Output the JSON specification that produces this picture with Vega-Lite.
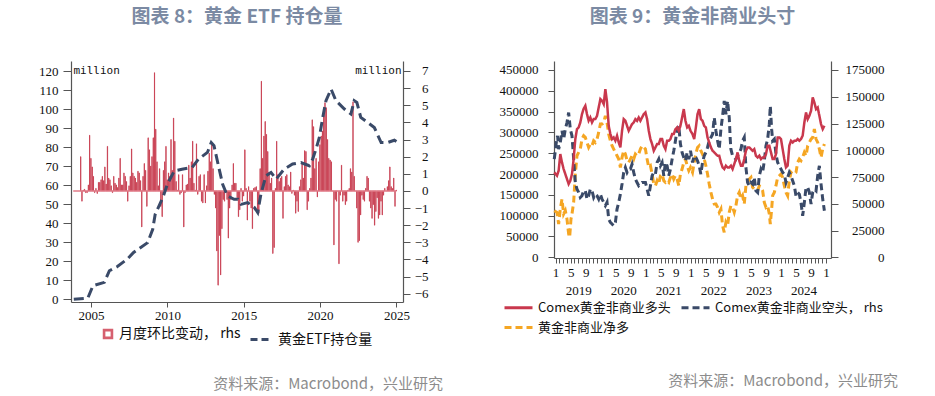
{
"$schema": "https://vega.github.io/schema/vega-lite/v6.json",
"background": "white",
"padding": {"left": 38, "top": 8, "right": 0, "bottom": 0},
"spacing": 56,
"resolve": {"scale": {"color": "independent", "fill": "independent", "stroke": "independent", "strokeDash": "independent"}, "legend": {"color": "independent", "fill": "independent", "stroke": "independent", "strokeDash": "independent"}},
"config": {
  "view": {"stroke": null},
  "axis": {"labelFont": "Liberation Serif", "labelFontSize": 13, "labelColor": "#111111", "domainColor": "#555555", "tickColor": "#555555", "domainWidth": 1.2, "grid": false, "titleFont": "DejaVu Sans Mono", "titleFontSize": 11, "titleFontWeight": "normal", "titleColor": "#111111"},
  "legend": {"labelFont": "Noto Sans CJK SC", "labelFontSize": 13, "labelColor": "#111111", "labelLimit": 0, "orient": "bottom", "layout": {"bottom": {"anchor": "middle"}}},
  "title": {"font": "Noto Sans CJK SC", "fontSize": 19, "fontWeight": "bold", "color": "#7b8aa3"}
},
"datasets": {
  "chg": [
    {"m":"2004-04","v":2.0},{"m":"2004-05","v":-0.6},{"m":"2004-06","v":0.05},{"m":"2004-07","v":0.1},{"m":"2004-08","v":-0.1},{"m":"2004-09","v":-0.1},{"m":"2004-10","v":0.35},{"m":"2004-11","v":3.25},{"m":"2004-12","v":1.9},
    {"m":"2005-01","v":1.4},{"m":"2005-02","v":0.85},{"m":"2005-03","v":-0.1},{"m":"2005-04","v":0.15},{"m":"2005-05","v":-0.15},{"m":"2005-06","v":0.5},{"m":"2005-07","v":0.5},{"m":"2005-08","v":0.65},{"m":"2005-09","v":0.85},{"m":"2005-10","v":0.6},{"m":"2005-11","v":1.4},{"m":"2005-12","v":0.4},
    {"m":"2006-01","v":2.6},{"m":"2006-02","v":0.75},{"m":"2006-03","v":0.65},{"m":"2006-04","v":0.3},{"m":"2006-05","v":-0.1},{"m":"2006-06","v":0.85},{"m":"2006-07","v":0.45},{"m":"2006-08","v":0.35},{"m":"2006-09","v":0.2},{"m":"2006-10","v":0.75},{"m":"2006-11","v":1.9},{"m":"2006-12","v":0.35},
    {"m":"2007-01","v":0.35},{"m":"2007-02","v":1.05},{"m":"2007-03","v":0.85},{"m":"2007-04","v":0.55},{"m":"2007-05","v":-0.6},{"m":"2007-06","v":0.3},{"m":"2007-07","v":0.85},{"m":"2007-08","v":2.45},{"m":"2007-09","v":1.05},{"m":"2007-10","v":0.85},{"m":"2007-11","v":0.75},{"m":"2007-12","v":0.5},
    {"m":"2008-01","v":1.15},{"m":"2008-02","v":1.05},{"m":"2008-03","v":0.6},{"m":"2008-04","v":-2.1},{"m":"2008-05","v":0.85},{"m":"2008-06","v":1.6},{"m":"2008-07","v":1.2},{"m":"2008-08","v":-0.9},{"m":"2008-09","v":3.1},{"m":"2008-10","v":2.4},{"m":"2008-11","v":1.45},{"m":"2008-12","v":2.0},
    {"m":"2009-01","v":3.1},{"m":"2009-02","v":6.9},{"m":"2009-03","v":3.6},{"m":"2009-04","v":1.7},{"m":"2009-05","v":0.3},{"m":"2009-06","v":1.3},{"m":"2009-07","v":-0.9},{"m":"2009-08","v":-1.5},{"m":"2009-09","v":1.2},{"m":"2009-10","v":1.7},{"m":"2009-11","v":2.6},{"m":"2009-12","v":0.65},
    {"m":"2010-01","v":1.05},{"m":"2010-02","v":0.85},{"m":"2010-03","v":3.0},{"m":"2010-04","v":1.2},{"m":"2010-05","v":4.25},{"m":"2010-06","v":2.9},{"m":"2010-07","v":0.55},{"m":"2010-08","v":0.05},{"m":"2010-09","v":0.95},{"m":"2010-10","v":-0.2},{"m":"2010-11","v":-0.1},{"m":"2010-12","v":0.95},
    {"m":"2011-01","v":-2.1},{"m":"2011-02","v":-0.1},{"m":"2011-03","v":0.35},{"m":"2011-04","v":0.4},{"m":"2011-05","v":1.5},{"m":"2011-06","v":0.75},{"m":"2011-07","v":1.7},{"m":"2011-08","v":2.9},{"m":"2011-09","v":0.45},{"m":"2011-10","v":0.05},{"m":"2011-11","v":2.75},{"m":"2011-12","v":-0.2},
    {"m":"2012-01","v":0.85},{"m":"2012-02","v":0.95},{"m":"2012-03","v":-0.6},{"m":"2012-04","v":-0.7},{"m":"2012-05","v":0.95},{"m":"2012-06","v":-0.7},{"m":"2012-07","v":0.3},{"m":"2012-08","v":1.15},{"m":"2012-09","v":2.2},{"m":"2012-10","v":1.7},{"m":"2012-11","v":2.8},{"m":"2012-12","v":1.3},
    {"m":"2013-01","v":-0.2},{"m":"2013-02","v":-1.0},{"m":"2013-03","v":-3.5},{"m":"2013-04","v":-5.5},{"m":"2013-05","v":-2.6},{"m":"2013-06","v":-4.9},{"m":"2013-07","v":-2.2},{"m":"2013-08","v":-0.5},{"m":"2013-09","v":-0.6},{"m":"2013-10","v":-0.1},{"m":"2013-11","v":-0.5},{"m":"2013-12","v":-2.75},
    {"m":"2014-01","v":-1.0},{"m":"2014-02","v":-0.5},{"m":"2014-03","v":0.35},{"m":"2014-04","v":1.6},{"m":"2014-05","v":0.45},{"m":"2014-06","v":0.45},{"m":"2014-07","v":-0.4},{"m":"2014-08","v":-1.5},{"m":"2014-09","v":-1.1},{"m":"2014-10","v":0.15},{"m":"2014-11","v":-0.6},{"m":"2014-12","v":-0.3},
    {"m":"2015-01","v":2.4},{"m":"2015-02","v":0.15},{"m":"2015-03","v":-1.7},{"m":"2015-04","v":0.25},{"m":"2015-05","v":-0.6},{"m":"2015-06","v":-1.0},{"m":"2015-07","v":-2.2},{"m":"2015-08","v":0.15},{"m":"2015-09","v":0.2},{"m":"2015-10","v":0.25},{"m":"2015-11","v":-1.3},{"m":"2015-12","v":-1.3},
    {"m":"2016-01","v":1.3},{"m":"2016-02","v":6.4},{"m":"2016-03","v":1.9},{"m":"2016-04","v":3.2},{"m":"2016-05","v":4.05},{"m":"2016-06","v":3.3},{"m":"2016-07","v":2.3},{"m":"2016-08","v":1.1},{"m":"2016-09","v":0.45},{"m":"2016-10","v":0.75},{"m":"2016-11","v":-3.65},{"m":"2016-12","v":-3.3},
    {"m":"2017-01","v":0.15},{"m":"2017-02","v":2.9},{"m":"2017-03","v":0.95},{"m":"2017-04","v":0.55},{"m":"2017-05","v":0.75},{"m":"2017-06","v":0.85},{"m":"2017-07","v":-1.6},{"m":"2017-08","v":0.25},{"m":"2017-09","v":0.85},{"m":"2017-10","v":0.95},{"m":"2017-11","v":0.35},{"m":"2017-12","v":0.25},
    {"m":"2018-01","v":1.1},{"m":"2018-02","v":-0.15},{"m":"2018-03","v":0.05},{"m":"2018-04","v":-0.25},{"m":"2018-05","v":-1.3},{"m":"2018-06","v":-0.6},{"m":"2018-07","v":-1.2},{"m":"2018-08","v":0.25},{"m":"2018-09","v":0.65},{"m":"2018-10","v":1.6},{"m":"2018-11","v":0.75},{"m":"2018-12","v":2.35},
    {"m":"2019-01","v":2.3},{"m":"2019-02","v":-1.1},{"m":"2019-03","v":-0.6},{"m":"2019-04","v":0.15},{"m":"2019-05","v":0.75},{"m":"2019-06","v":4.15},{"m":"2019-07","v":3.75},{"m":"2019-08","v":1.3},{"m":"2019-09","v":1.9},{"m":"2019-10","v":-0.35},{"m":"2019-11","v":1.7},{"m":"2019-12","v":2.7},
    {"m":"2020-01","v":3.2},{"m":"2020-02","v":3.5},{"m":"2020-03","v":4.85},{"m":"2020-04","v":5.15},{"m":"2020-05","v":4.85},{"m":"2020-06","v":3.0},{"m":"2020-07","v":1.9},{"m":"2020-08","v":1.8},{"m":"2020-09","v":1.7},{"m":"2020-10","v":0.0},{"m":"2020-11","v":-3.15},{"m":"2020-12","v":-0.5},
    {"m":"2021-01","v":-0.6},{"m":"2021-02","v":0.0},{"m":"2021-03","v":-4.25},{"m":"2021-04","v":-0.25},{"m":"2021-05","v":1.5},{"m":"2021-06","v":-0.6},{"m":"2021-07","v":-0.25},{"m":"2021-08","v":-0.8},{"m":"2021-09","v":-0.6},{"m":"2021-10","v":0.05},{"m":"2021-11","v":0.15},{"m":"2021-12","v":1.3},
    {"m":"2022-01","v":1.1},{"m":"2022-02","v":5.2},{"m":"2022-03","v":0.85},{"m":"2022-04","v":0.0},{"m":"2022-05","v":-1.0},{"m":"2022-06","v":-3.0},{"m":"2022-07","v":-2.9},{"m":"2022-08","v":-1.4},{"m":"2022-09","v":-0.25},{"m":"2022-10","v":-0.5},{"m":"2022-11","v":-0.6},{"m":"2022-12","v":0.15},
    {"m":"2023-01","v":0.85},{"m":"2023-02","v":0.75},{"m":"2023-03","v":-0.6},{"m":"2023-04","v":-1.0},{"m":"2023-05","v":-1.6},{"m":"2023-06","v":-0.8},{"m":"2023-07","v":-2.0},{"m":"2023-08","v":-1.2},{"m":"2023-09","v":-0.4},{"m":"2023-10","v":-1.6},{"m":"2023-11","v":-1.4},{"m":"2023-12","v":-0.6},
    {"m":"2024-01","v":-1.4},{"m":"2024-02","v":-0.25},{"m":"2024-03","v":0.15},{"m":"2024-04","v":0.0},{"m":"2024-05","v":0.25},{"m":"2024-06","v":0.6},{"m":"2024-07","v":1.4},{"m":"2024-08","v":0.25},{"m":"2024-09","v":0.15},{"m":"2024-10","v":0.75},{"m":"2024-11","v":-0.9},{"m":"2024-12","v":0.05}
  ],
  "etf": [
    {"d":"2003-11-15","v":0},{"d":"2004-10-15","v":0.6},{"d":"2005-02-15","v":7.1},{"d":"2005-11-15","v":8.9},{"d":"2006-03-15","v":15},{"d":"2006-09-15","v":17.1},{"d":"2007-05-15","v":21.1},{"d":"2007-10-15","v":24.6},{"d":"2008-09-15","v":29.8},{"d":"2009-01-15","v":36.8},{"d":"2009-03-15","v":44.7},{"d":"2009-09-15","v":53.5},{"d":"2010-01-01","v":60.5},{"d":"2010-06-15","v":67.5},{"d":"2010-12-15","v":68.4},{"d":"2011-08-15","v":69.3},{"d":"2012-01-15","v":73.7},{"d":"2012-08-15","v":77.2},{"d":"2012-11-15","v":82.4},{"d":"2013-01-20","v":80.7},{"d":"2013-05-15","v":69.3},{"d":"2013-08-15","v":60.5},{"d":"2013-12-05","v":54.4},{"d":"2014-05-15","v":52.6},{"d":"2014-08-15","v":52.6},{"d":"2014-10-30","v":49.9},{"d":"2015-04-05","v":50.8},{"d":"2015-09-15","v":48.2},{"d":"2015-12-01","v":45.6},{"d":"2016-02-15","v":55.2},{"d":"2016-06-15","v":64.9},{"d":"2016-10-15","v":66.7},{"d":"2017-02-15","v":63.2},{"d":"2017-08-25","v":68.4},{"d":"2018-03-15","v":71.1},{"d":"2018-10-01","v":71.9},{"d":"2019-04-20","v":70.2},{"d":"2019-07-08","v":73.7},{"d":"2019-09-27","v":79.0},{"d":"2019-12-15","v":85.1},{"d":"2020-03-05","v":95.6},{"d":"2020-05-22","v":104.4},{"d":"2020-09-20","v":110.5},{"d":"2021-01-15","v":104.4},{"d":"2021-08-05","v":100},{"d":"2022-01-08","v":97.4},{"d":"2022-03-28","v":104.4},{"d":"2022-05-30","v":103.5},{"d":"2022-09-01","v":95.6},{"d":"2023-02-15","v":92.9},{"d":"2023-07-22","v":90.3},{"d":"2024-01-01","v":82.4},{"d":"2024-06-05","v":82.4},{"d":"2024-11-12","v":83.6},{"d":"2025-01-01","v":82.9}
  ],
  "long": [
    {"t":2018.97,"v":204000},{"t":2019.03,"v":196000},{"t":2019.067,"v":208000},{"t":2019.104,"v":248000},{"t":2019.141,"v":228000},{"t":2019.178,"v":212000},{"t":2019.215,"v":200000},{"t":2019.252,"v":188000},{"t":2019.289,"v":176000},{"t":2019.326,"v":184000},{"t":2019.363,"v":200000},{"t":2019.4,"v":236000},{"t":2019.437,"v":284000},{"t":2019.474,"v":308000},{"t":2019.511,"v":312000},{"t":2019.548,"v":324000},{"t":2019.585,"v":344000},{"t":2019.622,"v":357000},{"t":2019.659,"v":364000},{"t":2019.696,"v":344000},{"t":2019.733,"v":328000},{"t":2019.77,"v":336000},{"t":2019.807,"v":324000},{"t":2019.844,"v":332000},{"t":2019.881,"v":332000},{"t":2019.919,"v":340000},{"t":2019.956,"v":360000},{"t":2019.993,"v":380000},
    {"t":2020.03,"v":376000},{"t":2020.067,"v":368000},{"t":2020.104,"v":404000},{"t":2020.141,"v":372000},{"t":2020.178,"v":316000},{"t":2020.215,"v":296000},{"t":2020.252,"v":284000},{"t":2020.289,"v":288000},{"t":2020.326,"v":280000},{"t":2020.363,"v":292000},{"t":2020.4,"v":276000},{"t":2020.437,"v":264000},{"t":2020.474,"v":304000},{"t":2020.511,"v":332000},{"t":2020.548,"v":328000},{"t":2020.585,"v":316000},{"t":2020.622,"v":304000},{"t":2020.659,"v":312000},{"t":2020.696,"v":320000},{"t":2020.733,"v":324000},{"t":2020.77,"v":332000},{"t":2020.807,"v":328000},{"t":2020.844,"v":336000},{"t":2020.881,"v":328000},{"t":2020.919,"v":336000},{"t":2020.956,"v":344000},{"t":2020.993,"v":348000},
    {"t":2021.03,"v":332000},{"t":2021.067,"v":304000},{"t":2021.104,"v":284000},{"t":2021.141,"v":272000},{"t":2021.178,"v":256000},{"t":2021.215,"v":264000},{"t":2021.252,"v":272000},{"t":2021.289,"v":272000},{"t":2021.326,"v":284000},{"t":2021.363,"v":284000},{"t":2021.4,"v":268000},{"t":2021.437,"v":260000},{"t":2021.474,"v":280000},{"t":2021.511,"v":280000},{"t":2021.548,"v":284000},{"t":2021.585,"v":296000},{"t":2021.622,"v":296000},{"t":2021.659,"v":308000},{"t":2021.696,"v":312000},{"t":2021.733,"v":304000},{"t":2021.77,"v":316000},{"t":2021.807,"v":336000},{"t":2021.844,"v":356000},{"t":2021.881,"v":328000},{"t":2021.919,"v":312000},{"t":2021.956,"v":316000},{"t":2021.993,"v":304000},
    {"t":2022.038,"v":296000},{"t":2022.075,"v":284000},{"t":2022.112,"v":312000},{"t":2022.149,"v":344000},{"t":2022.186,"v":356000},{"t":2022.223,"v":332000},{"t":2022.26,"v":328000},{"t":2022.297,"v":316000},{"t":2022.334,"v":312000},{"t":2022.371,"v":288000},{"t":2022.408,"v":276000},{"t":2022.446,"v":264000},{"t":2022.483,"v":256000},{"t":2022.52,"v":252000},{"t":2022.557,"v":248000},{"t":2022.594,"v":244000},{"t":2022.631,"v":244000},{"t":2022.668,"v":228000},{"t":2022.705,"v":216000},{"t":2022.742,"v":212000},{"t":2022.779,"v":220000},{"t":2022.816,"v":216000},{"t":2022.853,"v":216000},{"t":2022.89,"v":220000},{"t":2022.927,"v":212000},{"t":2022.964,"v":224000},
    {"t":2023.001,"v":236000},{"t":2023.038,"v":252000},{"t":2023.075,"v":232000},{"t":2023.112,"v":220000},{"t":2023.149,"v":220000},{"t":2023.186,"v":236000},{"t":2023.223,"v":256000},{"t":2023.26,"v":264000},{"t":2023.297,"v":264000},{"t":2023.334,"v":260000},{"t":2023.371,"v":256000},{"t":2023.408,"v":260000},{"t":2023.445,"v":244000},{"t":2023.483,"v":240000},{"t":2023.52,"v":244000},{"t":2023.557,"v":236000},{"t":2023.594,"v":240000},{"t":2023.631,"v":240000},{"t":2023.668,"v":248000},{"t":2023.705,"v":268000},{"t":2023.742,"v":268000},{"t":2023.779,"v":252000},{"t":2023.816,"v":236000},{"t":2023.853,"v":236000},{"t":2023.89,"v":248000},{"t":2023.927,"v":288000},{"t":2023.964,"v":288000},
    {"t":2024.001,"v":284000},{"t":2024.038,"v":260000},{"t":2024.075,"v":236000},{"t":2024.112,"v":216000},{"t":2024.149,"v":220000},{"t":2024.186,"v":268000},{"t":2024.223,"v":280000},{"t":2024.26,"v":276000},{"t":2024.297,"v":280000},{"t":2024.334,"v":280000},{"t":2024.371,"v":284000},{"t":2024.408,"v":280000},{"t":2024.445,"v":284000},{"t":2024.482,"v":292000},{"t":2024.52,"v":324000},{"t":2024.557,"v":348000},{"t":2024.594,"v":332000},{"t":2024.631,"v":340000},{"t":2024.668,"v":352000},{"t":2024.705,"v":384000},{"t":2024.742,"v":372000},{"t":2024.779,"v":356000},{"t":2024.816,"v":360000},{"t":2024.853,"v":340000},{"t":2024.89,"v":320000},{"t":2024.927,"v":308000},{"t":2024.964,"v":316000}
  ],
  "net": [
    {"t":2018.97,"v":112000},{"t":2019.03,"v":108000},{"t":2019.067,"v":80000},{"t":2019.104,"v":116000},{"t":2019.141,"v":140000},{"t":2019.178,"v":104000},{"t":2019.215,"v":112000},{"t":2019.252,"v":92000},{"t":2019.289,"v":56000},{"t":2019.311,"v":48000},{"t":2019.341,"v":92000},{"t":2019.363,"v":104000},{"t":2019.4,"v":132000},{"t":2019.437,"v":200000},{"t":2019.474,"v":244000},{"t":2019.511,"v":252000},{"t":2019.548,"v":260000},{"t":2019.585,"v":284000},{"t":2019.622,"v":292000},{"t":2019.659,"v":288000},{"t":2019.696,"v":276000},{"t":2019.733,"v":264000},{"t":2019.77,"v":272000},{"t":2019.807,"v":268000},{"t":2019.844,"v":280000},{"t":2019.881,"v":276000},{"t":2019.919,"v":284000},{"t":2019.956,"v":300000},{"t":2019.993,"v":320000},
    {"t":2020.03,"v":320000},{"t":2020.067,"v":324000},{"t":2020.104,"v":340000},{"t":2020.141,"v":324000},{"t":2020.178,"v":296000},{"t":2020.215,"v":280000},{"t":2020.252,"v":268000},{"t":2020.289,"v":260000},{"t":2020.326,"v":252000},{"t":2020.363,"v":244000},{"t":2020.4,"v":236000},{"t":2020.437,"v":216000},{"t":2020.474,"v":240000},{"t":2020.511,"v":256000},{"t":2020.548,"v":248000},{"t":2020.585,"v":232000},{"t":2020.622,"v":228000},{"t":2020.659,"v":236000},{"t":2020.696,"v":244000},{"t":2020.733,"v":236000},{"t":2020.77,"v":248000},{"t":2020.807,"v":244000},{"t":2020.844,"v":248000},{"t":2020.881,"v":260000},{"t":2020.919,"v":268000},{"t":2020.956,"v":264000},{"t":2020.993,"v":260000},
    {"t":2021.03,"v":236000},{"t":2021.067,"v":216000},{"t":2021.104,"v":220000},{"t":2021.141,"v":200000},{"t":2021.178,"v":176000},{"t":2021.215,"v":172000},{"t":2021.252,"v":184000},{"t":2021.289,"v":176000},{"t":2021.326,"v":196000},{"t":2021.363,"v":200000},{"t":2021.4,"v":184000},{"t":2021.437,"v":180000},{"t":2021.474,"v":184000},{"t":2021.511,"v":180000},{"t":2021.548,"v":192000},{"t":2021.585,"v":200000},{"t":2021.622,"v":188000},{"t":2021.659,"v":196000},{"t":2021.696,"v":188000},{"t":2021.733,"v":172000},{"t":2021.77,"v":200000},{"t":2021.807,"v":212000},{"t":2021.844,"v":228000},{"t":2021.881,"v":236000},{"t":2021.919,"v":220000},{"t":2021.956,"v":208000},{"t":2021.993,"v":216000},
    {"t":2022.038,"v":204000},{"t":2022.075,"v":228000},{"t":2022.112,"v":248000},{"t":2022.149,"v":264000},{"t":2022.186,"v":268000},{"t":2022.223,"v":256000},{"t":2022.26,"v":248000},{"t":2022.297,"v":236000},{"t":2022.334,"v":220000},{"t":2022.371,"v":200000},{"t":2022.408,"v":176000},{"t":2022.446,"v":156000},{"t":2022.483,"v":140000},{"t":2022.52,"v":128000},{"t":2022.557,"v":128000},{"t":2022.594,"v":120000},{"t":2022.631,"v":108000},{"t":2022.668,"v":116000},{"t":2022.705,"v":76000},{"t":2022.742,"v":60000},{"t":2022.779,"v":84000},{"t":2022.816,"v":76000},{"t":2022.853,"v":108000},{"t":2022.89,"v":124000},{"t":2022.927,"v":120000},{"t":2022.964,"v":108000},
    {"t":2023.001,"v":124000},{"t":2023.038,"v":148000},{"t":2023.075,"v":156000},{"t":2023.112,"v":140000},{"t":2023.149,"v":148000},{"t":2023.186,"v":128000},{"t":2023.223,"v":172000},{"t":2023.26,"v":180000},{"t":2023.297,"v":188000},{"t":2023.334,"v":192000},{"t":2023.371,"v":168000},{"t":2023.408,"v":164000},{"t":2023.445,"v":160000},{"t":2023.483,"v":160000},{"t":2023.52,"v":172000},{"t":2023.557,"v":168000},{"t":2023.594,"v":160000},{"t":2023.631,"v":132000},{"t":2023.668,"v":120000},{"t":2023.705,"v":124000},{"t":2023.742,"v":104000},{"t":2023.764,"v":80000},{"t":2023.794,"v":116000},{"t":2023.816,"v":148000},{"t":2023.853,"v":156000},{"t":2023.89,"v":172000},{"t":2023.927,"v":192000},{"t":2023.964,"v":196000},
    {"t":2024.001,"v":200000},{"t":2024.038,"v":192000},{"t":2024.075,"v":172000},{"t":2024.112,"v":156000},{"t":2024.149,"v":148000},{"t":2024.186,"v":184000},{"t":2024.223,"v":204000},{"t":2024.26,"v":200000},{"t":2024.297,"v":200000},{"t":2024.334,"v":204000},{"t":2024.371,"v":228000},{"t":2024.408,"v":236000},{"t":2024.445,"v":232000},{"t":2024.482,"v":240000},{"t":2024.52,"v":252000},{"t":2024.557,"v":244000},{"t":2024.594,"v":268000},{"t":2024.631,"v":276000},{"t":2024.668,"v":284000},{"t":2024.705,"v":288000},{"t":2024.742,"v":308000},{"t":2024.779,"v":284000},{"t":2024.816,"v":276000},{"t":2024.853,"v":260000},{"t":2024.89,"v":240000},{"t":2024.927,"v":260000},{"t":2024.964,"v":272000}
  ],
  "short": [
    {"t":2018.97,"v":91700},{"t":2019.015,"v":107300},{"t":2019.044,"v":113500},{"t":2019.067,"v":101000},{"t":2019.104,"v":107300},{"t":2019.141,"v":118100},{"t":2019.178,"v":110400},{"t":2019.215,"v":119700},{"t":2019.252,"v":125900},{"t":2019.289,"v":135200},{"t":2019.326,"v":119700},{"t":2019.363,"v":113500},{"t":2019.385,"v":101000},{"t":2019.415,"v":82400},{"t":2019.437,"v":69900},{"t":2019.474,"v":63700},{"t":2019.511,"v":60600},{"t":2019.548,"v":55900},{"t":2019.585,"v":57500},{"t":2019.622,"v":62200},{"t":2019.659,"v":62200},{"t":2019.696,"v":54400},{"t":2019.733,"v":57500},{"t":2019.77,"v":63700},{"t":2019.807,"v":62200},{"t":2019.844,"v":55900},{"t":2019.881,"v":59000},{"t":2019.919,"v":57500},{"t":2019.956,"v":54400},{"t":2019.993,"v":59000},
    {"t":2020.03,"v":54400},{"t":2020.067,"v":51300},{"t":2020.104,"v":48200},{"t":2020.141,"v":51300},{"t":2020.178,"v":35700},{"t":2020.215,"v":32600},{"t":2020.252,"v":31100},{"t":2020.289,"v":29500},{"t":2020.326,"v":32600},{"t":2020.363,"v":45100},{"t":2020.4,"v":51300},{"t":2020.437,"v":59000},{"t":2020.474,"v":68400},{"t":2020.511,"v":79300},{"t":2020.548,"v":83900},{"t":2020.585,"v":79300},{"t":2020.622,"v":82400},{"t":2020.659,"v":82400},{"t":2020.696,"v":87000},{"t":2020.733,"v":79300},{"t":2020.77,"v":73000},{"t":2020.807,"v":69900},{"t":2020.844,"v":66800},{"t":2020.881,"v":68400},{"t":2020.919,"v":69900},{"t":2020.956,"v":69900},{"t":2020.993,"v":69900},
    {"t":2021.03,"v":63700},{"t":2021.067,"v":57500},{"t":2021.104,"v":66800},{"t":2021.141,"v":76200},{"t":2021.178,"v":79300},{"t":2021.215,"v":77700},{"t":2021.252,"v":88600},{"t":2021.289,"v":91700},{"t":2021.326,"v":85500},{"t":2021.363,"v":88600},{"t":2021.4,"v":76200},{"t":2021.437,"v":88600},{"t":2021.474,"v":85500},{"t":2021.511,"v":76200},{"t":2021.548,"v":82400},{"t":2021.585,"v":91700},{"t":2021.622,"v":99500},{"t":2021.659,"v":108800},{"t":2021.696,"v":119700},{"t":2021.733,"v":122800},{"t":2021.77,"v":105700},{"t":2021.807,"v":97900},{"t":2021.844,"v":93300},{"t":2021.881,"v":90100},{"t":2021.919,"v":97900},{"t":2021.956,"v":91700},{"t":2021.993,"v":99500},
    {"t":2022.038,"v":88600},{"t":2022.075,"v":94800},{"t":2022.112,"v":93300},{"t":2022.149,"v":90100},{"t":2022.186,"v":85500},{"t":2022.223,"v":77700},{"t":2022.26,"v":88600},{"t":2022.297,"v":94800},{"t":2022.334,"v":97900},{"t":2022.371,"v":102600},{"t":2022.408,"v":108800},{"t":2022.446,"v":111900},{"t":2022.483,"v":115000},{"t":2022.52,"v":130600},{"t":2022.557,"v":118100},{"t":2022.594,"v":108800},{"t":2022.631,"v":101000},{"t":2022.668,"v":119700},{"t":2022.705,"v":132100},{"t":2022.742,"v":146100},{"t":2022.779,"v":133700},{"t":2022.816,"v":146100},{"t":2022.853,"v":130600},{"t":2022.875,"v":110400},{"t":2022.89,"v":101000},{"t":2022.927,"v":94800},{"t":2022.964,"v":93300},
    {"t":2023.001,"v":91700},{"t":2023.038,"v":94800},{"t":2023.075,"v":97900},{"t":2023.112,"v":101000},{"t":2023.149,"v":108800},{"t":2023.186,"v":111900},{"t":2023.223,"v":83900},{"t":2023.26,"v":69900},{"t":2023.297,"v":66800},{"t":2023.334,"v":69900},{"t":2023.371,"v":68400},{"t":2023.408,"v":74600},{"t":2023.445,"v":62200},{"t":2023.483,"v":60600},{"t":2023.52,"v":76200},{"t":2023.557,"v":82400},{"t":2023.594,"v":79300},{"t":2023.631,"v":90100},{"t":2023.668,"v":104100},{"t":2023.705,"v":110400},{"t":2023.742,"v":124400},{"t":2023.764,"v":141500},{"t":2023.794,"v":119700},{"t":2023.816,"v":108800},{"t":2023.853,"v":110400},{"t":2023.89,"v":96400},{"t":2023.927,"v":88600},{"t":2023.964,"v":85500},
    {"t":2024.001,"v":82400},{"t":2024.038,"v":79300},{"t":2024.075,"v":77700},{"t":2024.112,"v":69900},{"t":2024.149,"v":74600},{"t":2024.186,"v":79300},{"t":2024.223,"v":76200},{"t":2024.26,"v":71500},{"t":2024.297,"v":66800},{"t":2024.334,"v":57500},{"t":2024.371,"v":60600},{"t":2024.408,"v":59000},{"t":2024.445,"v":51300},{"t":2024.482,"v":38800},{"t":2024.52,"v":51300},{"t":2024.557,"v":65300},{"t":2024.594,"v":65300},{"t":2024.631,"v":60600},{"t":2024.668,"v":49700},{"t":2024.705,"v":60600},{"t":2024.742,"v":63700},{"t":2024.779,"v":62200},{"t":2024.816,"v":76200},{"t":2024.853,"v":85500},{"t":2024.89,"v":68400},{"t":2024.927,"v":54400},{"t":2024.964,"v":43500}
  ]
},
"hconcat": [
  {
    "title": {"text": "资料来源：Macrobond，兴业研究", "orient": "bottom", "anchor": "end", "font": "Noto Sans CJK SC", "fontSize": 15, "fontWeight": "normal", "color": "#8c8c8c", "offset": 30, "dx": 15},
    "resolve": {"scale": {"fill": "independent", "stroke": "independent"}, "legend": {"fill": "independent", "stroke": "independent"}},
    "vconcat": [
      {
        "title": {"text": "图表 8：黄金 ETF 持仓量", "anchor": "middle", "offset": 34},
        "width": 332,
        "height": 241,
        "layer": [
          {
            "data": {"name": "chg"},
            "mark": {"type": "bar", "stroke": "#c63a4c", "strokeWidth": 0.8},
            "encoding": {
              "x": {"field": "m", "type": "temporal", "timeUnit": "utcyearmonth", "title": null,
                "scale": {"type": "utc", "domain": [{"year": 2003, "month": 9, "date": 9, "utc": true}, {"year": 2025, "month": 6, "date": 7, "utc": true}]},
                "axis": {"values": [{"year": 2005, "month": 1, "date": 1, "utc": true}, {"year": 2010, "month": 1, "date": 1, "utc": true}, {"year": 2015, "month": 1, "date": 1, "utc": true}, {"year": 2020, "month": 1, "date": 1, "utc": true}, {"year": 2025, "month": 1, "date": 1, "utc": true}],
                  "labelExpr": "utcFormat(datum.value, '%Y')", "tickSize": 5, "labelPadding": 2, "labelFlush": false, "labelOverlap": false, "title": null}},
              "y": {"field": "v", "type": "quantitative",
                "scale": {"domain": [-6.48, 7.58], "nice": false, "zero": false},
                "axis": {"orient": "right", "values": [-6, -5, -4, -3, -2, -1, 0, 1, 2, 3, 4, 5, 6, 7], "tickSize": 7, "labelPadding": 18, "labelAlign": "right", "title": "million", "titleAngle": 0, "titleX": -2, "titleY": 9, "titleAlign": "right", "titleBaseline": "middle"}},
              "y2": {"datum": 0},
              "fill": {"datum": "月度环比变动， rhs", "scale": {"range": ["#d6606f"]},
                "legend": {"title": null, "symbolType": "M-1,-1H1V1H-1Z M-0.5,-0.5V0.5H0.5V-0.5Z", "symbolSize": 110, "symbolStrokeWidth": 0, "labelFontSize": 14, "offset": 5}}
            }
          },
          {
            "data": {"values": [{}]},
            "mark": {"type": "rule", "color": "#e07a87", "strokeWidth": 1.5},
            "encoding": {
              "x": {"datum": {"year": 2003, "month": 11, "date": 1, "utc": true}, "type": "temporal"},
              "x2": {"datum": {"year": 2025, "month": 1, "date": 1, "utc": true}},
              "y": {"datum": 0, "type": "quantitative", "scale": {"domain": [-6.48, 7.58], "nice": false, "zero": false}, "axis": null}
            }
          },
          {
            "data": {"name": "etf"},
            "mark": {"type": "line", "strokeWidth": 3, "strokeDash": [10, 5]},
            "encoding": {
              "x": {"field": "d", "type": "temporal", "scale": {"type": "utc"}},
              "y": {"field": "v", "type": "quantitative",
                "scale": {"domain": [-1.42, 125.26], "nice": false, "zero": false},
                "axis": {"orient": "left", "values": [0, 10, 20, 30, 40, 50, 60, 70, 80, 90, 100, 110, 120], "tickSize": 8, "labelPadding": 5, "title": "million", "titleAngle": 0, "titleX": 2, "titleY": 9, "titleAlign": "left", "titleBaseline": "middle"}},
              "stroke": {"datum": "黄金ETF持仓量", "scale": {"range": ["#3a4a68"]},
                "legend": {"title": null, "symbolType": "stroke", "symbolSize": 484, "symbolStrokeWidth": 3, "symbolDash": [7, 4], "labelFontSize": 14, "offset": 5}}
            }
          }
        ],
        "resolve": {"scale": {"y": "independent"}}
      }
    ]
  },
  {
    "title": {"text": "资料来源：Macrobond，兴业研究", "orient": "bottom", "anchor": "end", "font": "Noto Sans CJK SC", "fontSize": 15, "fontWeight": "normal", "color": "#8c8c8c", "offset": 39, "dx": 14},
    "resolve": {"scale": {"color": "independent", "strokeDash": "independent"}, "legend": {"color": "independent", "strokeDash": "independent"}},
    "vconcat": [
      {
        "title": {"text": "图表 9：黄金非商业头寸", "anchor": "middle", "offset": 34},
        "width": 277,
        "height": 197,
        "encoding": {
          "x": {"field": "t", "type": "quantitative", "title": null,
            "scale": {"domain": [2018.964, 2025.111], "nice": false, "zero": false},
            "axis": {"title": null, "values": [2019, 2019.0833, 2019.1667, 2019.25, 2019.3333, 2019.4167, 2019.5, 2019.5833, 2019.6667, 2019.75, 2019.8333, 2019.9167, 2020, 2020.0833, 2020.1667, 2020.25, 2020.3333, 2020.4167, 2020.5, 2020.5833, 2020.6667, 2020.75, 2020.8333, 2020.9167, 2021, 2021.0833, 2021.1667, 2021.25, 2021.3333, 2021.4167, 2021.5, 2021.5833, 2021.6667, 2021.75, 2021.8333, 2021.9167, 2022, 2022.0833, 2022.1667, 2022.25, 2022.3333, 2022.4167, 2022.5, 2022.5833, 2022.6667, 2022.75, 2022.8333, 2022.9167, 2023, 2023.0833, 2023.1667, 2023.25, 2023.3333, 2023.4167, 2023.5, 2023.5833, 2023.6667, 2023.75, 2023.8333, 2023.9167, 2024, 2024.0833, 2024.1667, 2024.25, 2024.3333, 2024.4167, 2024.5, 2024.5833, 2024.6667, 2024.75, 2024.8333, 2024.9167, 2025],
              "labelExpr": "(round(datum.value*12)%12==0) ? '1' : (round(datum.value*12)%12==4) ? '5' : (round(datum.value*12)%12==8) ? '9' : (round(datum.value*12)%12==6) ? ['', '' + floor(datum.value)] : ''",
              "tickSize": 5, "labelPadding": 3, "labelOverlap": false, "labelFlush": false, "labelBound": false, "labelLineHeight": 18}}
        },
        "layer": [
          {
            "data": {"name": "net"},
            "mark": {"type": "line", "strokeWidth": 3},
            "encoding": {
              "y": {"field": "v", "type": "quantitative",
                "scale": {"domain": [-1700, 471600], "nice": false, "zero": false},
                "axis": {"orient": "left", "values": [0, 50000, 100000, 150000, 200000, 250000, 300000, 350000, 400000, 450000], "format": "d", "tickSize": 6, "labelPadding": 10, "title": null}},
              "color": {"datum": "黄金非商业净多",
                "scale": {"domain": ["Comex黄金非商业多头", "Comex黄金非商业空头， rhs", "黄金非商业净多"], "range": ["#c9384d", "#3a4a68", "#f5a623"]},
                "legend": {"title": null, "columns": 2, "symbolType": "M-1,0H3", "symbolSize": 196, "symbolStrokeWidth": 3, "labelOffset": 18, "columnPadding": 4, "rowPadding": 4, "offset": 2}},
              "strokeDash": {"datum": "黄金非商业净多",
                "scale": {"domain": ["Comex黄金非商业多头", "Comex黄金非商业空头， rhs", "黄金非商业净多"], "range": [[1, 0], [7, 4], [7, 4]]},
                "legend": {"title": null, "columns": 2, "symbolType": "M-1,0H3", "symbolSize": 196, "symbolStrokeWidth": 3, "labelOffset": 18, "columnPadding": 4, "rowPadding": 4, "offset": 2}}
            }
          },
          {
            "data": {"name": "short"},
            "mark": {"type": "line", "strokeWidth": 3},
            "encoding": {
              "y": {"field": "v", "type": "quantitative",
                "scale": {"domain": [-661, 183400], "nice": false, "zero": false},
                "axis": {"orient": "right", "values": [0, 25000, 50000, 75000, 100000, 125000, 150000, 175000], "format": "d", "tickSize": 7, "labelPadding": 46, "labelAlign": "right", "title": null}},
              "color": {"datum": "Comex黄金非商业空头， rhs"},
              "strokeDash": {"datum": "Comex黄金非商业空头， rhs"}
            }
          },
          {
            "data": {"name": "long"},
            "mark": {"type": "line", "strokeWidth": 2.5},
            "encoding": {
              "y": {"field": "v", "type": "quantitative", "scale": {"domain": [-1700, 471600], "nice": false, "zero": false}, "axis": null},
              "color": {"datum": "Comex黄金非商业多头"},
              "strokeDash": {"datum": "Comex黄金非商业多头"}
            }
          }
        ],
        "resolve": {"scale": {"y": "independent"}}
      }
    ]
  }
]
}
